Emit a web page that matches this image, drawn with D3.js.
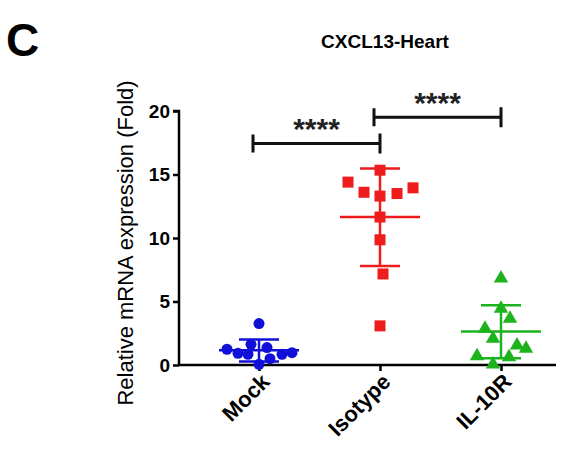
<!DOCTYPE html><html><head><script src="https://cdn.jsdelivr.net/npm/d3@7"></script>
<style>body{margin:0;background:#fff}text{font-family:Arial,"Liberation Sans",sans-serif}</style></head><body>
<svg id="c" width="584" height="464"></svg>
<script>
const categories=["Mock","Isotype","IL-10R"];
const mockValues=[3.26,1.24,0.92,0.84,1.63,1.37,0.50,0.84,0.97,0.05];
const mockOffsets=[0,-32,-21,-11,-8,8,11,23,33,0];
const isotypeValues=[15.34,14.4,13.6,13.3,13.5,13.95,11.65,9.86,7.17,3.08];
const isotypeOffsets=[0,-32,-16,0,17,33,0,0,3,0];
const il10rValues=[6.9,4.53,3.74,2.95,2.16,1.63,1.37,0.79,0.71,0.13];
const il10rOffsets=[0,0,9,-16,-8,16,25,-24,8,-8];
const means=[1.16,11.65,2.64];
const sdTop=[2.0,15.47,4.7];
const sdBottom=[0.27,7.8,0.54];
const colors=["#1010d8","#ee1c1c","#1db31d"];
const yTicks=[0,5,10,15,20];
const svg=d3.select("#c");
const x=d3.scalePoint().domain(categories).range([259,501]);
const y=d3.scaleLinear().domain([0,20]).range([365,111]);
svg.append("g").attr("transform","translate(179,0)").call(d3.axisLeft(y).tickValues(yTicks).tickSize(6).tickPadding(3))
 .call(g=>{g.select(".domain").attr("stroke-width",2.5).attr("d","M-6,111H0V365");g.selectAll("line").attr("stroke-width",2.5);g.selectAll("text").attr("font-size",19).attr("font-weight","bold").attr("fill","#000");});
svg.append("g").attr("transform","translate(0,365)").call(d3.axisBottom(x).tickSize(6).tickFormat(""))
 .call(g=>{g.select(".domain").attr("stroke-width",2.5).attr("d","M179,0H556");g.selectAll("line").attr("stroke-width",2.5);});
categories.forEach((c,i)=>{
 svg.append("text").attr("transform",`translate(${x(c)+12},${383}) rotate(-45)`).attr("text-anchor","end").attr("font-size",22).attr("font-weight","bold").text(c);
});
svg.append("text").attr("transform","translate(133,243) rotate(-90)").attr("text-anchor","middle").attr("font-size",22).text("Relative mRNA expression (Fold)");
svg.append("text").attr("x",385).attr("y",48).attr("text-anchor","middle").attr("font-size",19).attr("font-weight","bold").text("CXCL13-Heart");
svg.append("text").attr("x",6).attr("y",56).attr("font-size",46).attr("font-weight","bold").text("C");
const groups=[[mockValues,mockOffsets],[isotypeValues,isotypeOffsets],[il10rValues,il10rOffsets]];
groups.forEach(([vals,offs],i)=>{
 const cx=x(categories[i]),col=colors[i];
 const g=svg.append("g");
 vals.forEach((v,j)=>{
  const px=cx+offs[j],py=y(v);
  if(i===0)g.append("circle").attr("cx",px).attr("cy",py).attr("r",5.5).attr("fill",col);
  else if(i===1)g.append("rect").attr("x",px-5.5).attr("y",py-5.5).attr("width",11).attr("height",11).attr("fill",col);
  else g.append("path").attr("d",d3.symbol(d3.symbolTriangle,90)()).attr("transform",`translate(${px},${py+1})`).attr("fill",col);
 });
 g.append("line").attr("x1",cx).attr("x2",cx).attr("y1",y(sdTop[i])).attr("y2",y(sdBottom[i])).attr("stroke",col).attr("stroke-width",2.5);
 g.append("line").attr("x1",cx-40).attr("x2",cx+40).attr("y1",y(means[i])).attr("y2",y(means[i])).attr("stroke",col).attr("stroke-width",2.5);
 [sdTop[i],sdBottom[i]].forEach(v=>g.append("line").attr("x1",cx-20).attr("x2",cx+20).attr("y1",y(v)).attr("y2",y(v)).attr("stroke",col).attr("stroke-width",2.5));
});
function bracket(a,b,v){
 const yy=y(v);
 svg.append("path").attr("d",`M${x(a)-6},${yy-9}V${yy+9}M${x(a)-6},${yy}H${x(b)}M${x(b)},${yy-10}V${yy+10}`).attr("fill","none").attr("stroke","#111").attr("stroke-width",3);
 svg.append("text").attr("x",(x(a)+x(b))/2-3).attr("y",yy-4).attr("text-anchor","middle").attr("font-size",30).attr("font-weight","bold").attr("fill","#222").text("****");
}
bracket("Mock","Isotype",17.45);
bracket("Isotype","IL-10R",19.5);
</script></body></html>
